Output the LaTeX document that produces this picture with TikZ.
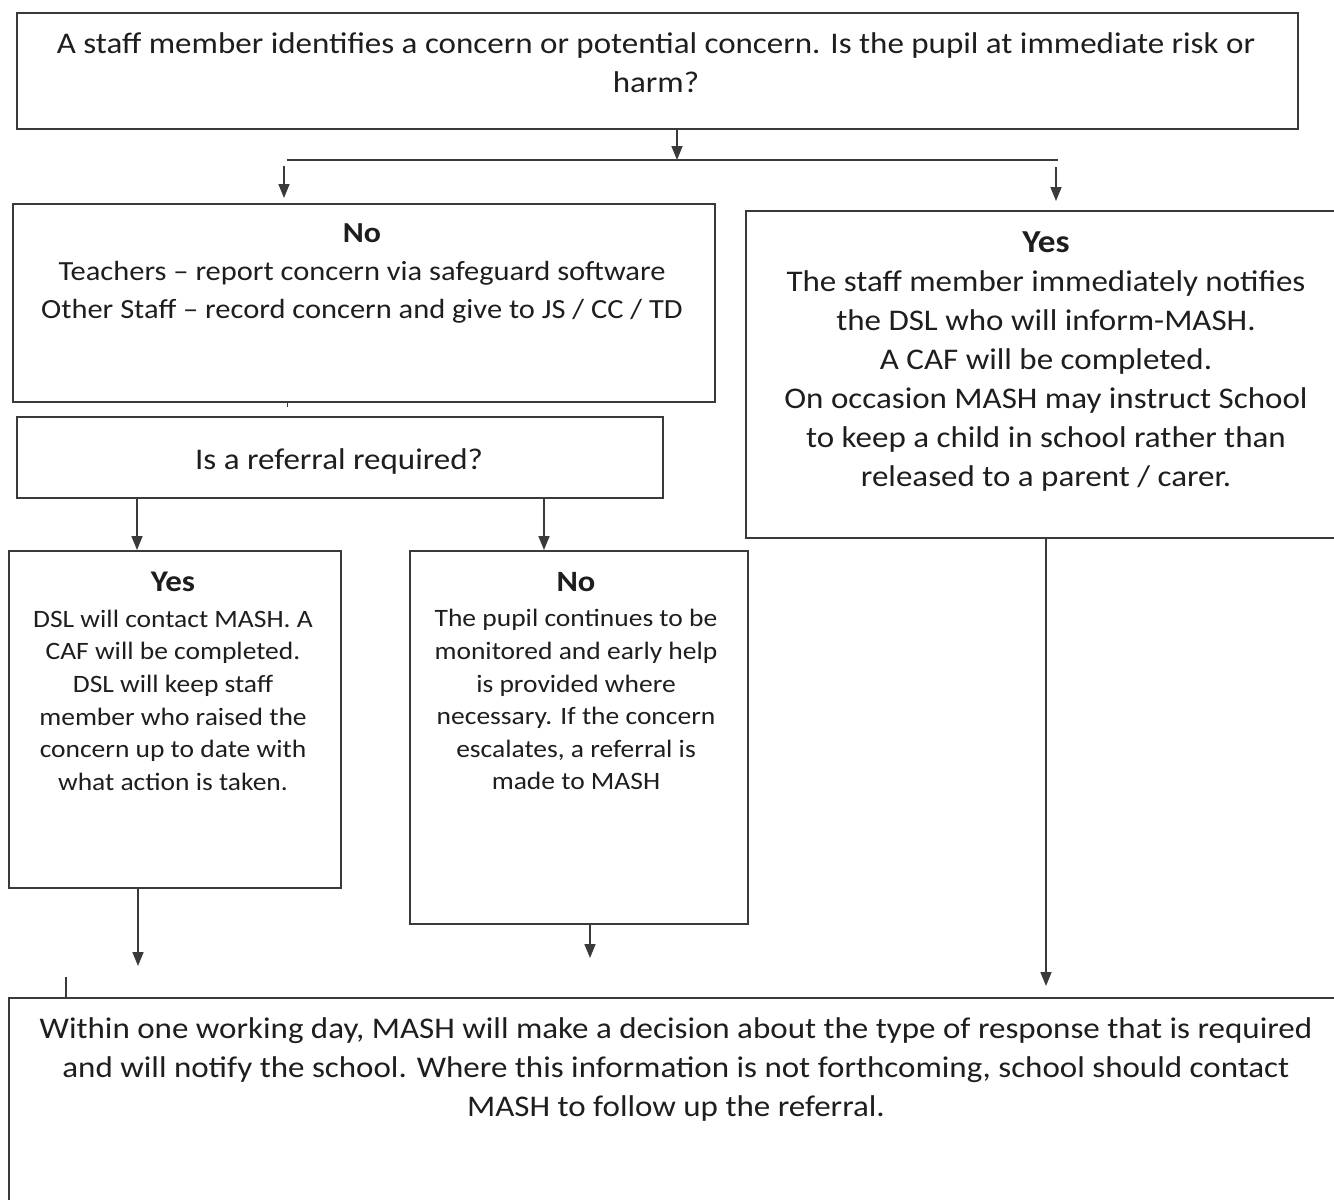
\documentclass[tikz,border=0pt]{standalone}
\usepackage{fontspec}
\setmainfont{Carlito}[FakeStretch=1.1]
\usetikzlibrary{arrows.meta}
\definecolor{linec}{HTML}{3A3A3A}
\definecolor{txtc}{HTML}{1E1E1E}
\begin{document}
\begin{tikzpicture}[x=1pt,y=-1pt,
  box/.style={draw=linec, line width=1.8pt, inner sep=0pt, anchor=north west, fill=white},
  bigtxt/.style={align=center, inner sep=0pt, anchor=north, text=txtc, font=\fontsize{30}{39}\selectfont},
  midtxt/.style={align=center, inner sep=0pt, anchor=north, text=txtc, font=\fontsize{27.7}{38.3}\selectfont},
  smalltxt/.style={align=center, inner sep=0pt, anchor=north, text=txtc, font=\fontsize{25}{32.6}\selectfont},
  arr/.style={draw=linec, line width=1.6pt, -{Triangle[width=11pt,length=14pt]}},
  ln/.style={draw=linec, line width=1.6pt}]
\useasboundingbox (0,0) rectangle (1334,1200);
\clip (0,0) rectangle (1334,1200);
% boxes
\node[box, minimum width=1281pt, minimum height=116pt] (top) at (16,12) {};
\node[box, minimum width=702pt, minimum height=198pt] (noL) at (12,203) {};
\node[box, minimum width=646pt, minimum height=81pt] (ref) at (16,416) {};
\node[box, minimum width=332pt, minimum height=337pt] (yesA) at (8,550) {};
\node[box, minimum width=338pt, minimum height=373pt] (noA) at (409,550) {};
\node[box, minimum width=620pt, minimum height=327pt] (yesR) at (745,210) {};
\node[box, minimum width=1360pt, minimum height=240pt] (mash) at (8,997) {};
% texts
\node[bigtxt] (ttop) at (656,32) {A staff member identifies a concern or potential concern. Is the pupil at immediate risk or\\harm?};
\node[midtxt] (tnoL) at (362,223) {{\fontsize{29}{38.3}\selectfont\textbf{No}}\\Teachers -- report concern via safeguard software\\Other Staff -- record concern and give to JS / CC / TD};
\node[bigtxt, anchor=center] (tref) at (339,461) {Is a referral required?};
\node[smalltxt] (tyesA) at (173,572) {{\fontsize{30}{34}\selectfont\textbf{Yes}}\\[3pt]DSL will contact MASH. A\\CAF will be completed.\\DSL will keep staff\\member who raised the\\concern up to date with\\what action is taken.};
\node[smalltxt] (tnoA) at (576,572) {{\fontsize{29.5}{34}\selectfont\textbf{No}}\\[3pt]The pupil continues to be\\monitored and early help\\is provided where\\necessary. If the concern\\escalates, a referral is\\made to MASH};
\node[bigtxt] (tyesR) at (1046,232) {{\fontsize{32}{39}\selectfont\textbf{Yes}}\\The staff member immediately notifies\\the DSL who will inform-MASH.\\A CAF will be completed.\\On occasion MASH may instruct School\\to keep a child in school rather than\\released to a parent / carer.};
\node[bigtxt] (tmash) at (676,1017) {Within one working day, MASH will make a decision about the type of response that is required\\and will notify the school. Where this information is not forthcoming, school should contact\\MASH to follow up the referral.};
% connector coordinates
\coordinate (split) at (677,160);
\coordinate (splitL) at (287,160);
\coordinate (splitR) at (1058,160);
\coordinate (aLs) at (284,166);
\coordinate (aLe) at (284,198);
\coordinate (aRs) at (1056,167);
\coordinate (aRe) at (1056,201);
\coordinate (yesAe) at (138,966);
\coordinate (noAe) at (590,958);
\coordinate (yesRe) at (1046,986);
\coordinate (tickA) at (66,977);
\coordinate (tickB) at (287,407);
% connectors
\draw[arr] (top.south -| split) -- (split);
\draw[ln] (splitL) -- (splitR);
\draw[arr] (aLs) -- (aLe);
\draw[arr] (aRs) -- (aRe);
\draw[ln, line width=1pt] (noL.south -| tickB) -- (tickB);
\draw[arr] (ref.south -| 137,0) -- (yesA.north -| 137,0);
\draw[arr] (ref.south -| 544,0) -- (noA.north -| 544,0);
\draw[arr] (yesA.south -| yesAe) -- (yesAe);
\draw[arr] (noA.south -| noAe) -- (noAe);
\draw[arr] (yesR.south -| yesRe) -- (yesRe);
\draw[ln, line width=1.2pt] (tickA) -- (mash.north -| tickA);
\end{tikzpicture}
\end{document}
